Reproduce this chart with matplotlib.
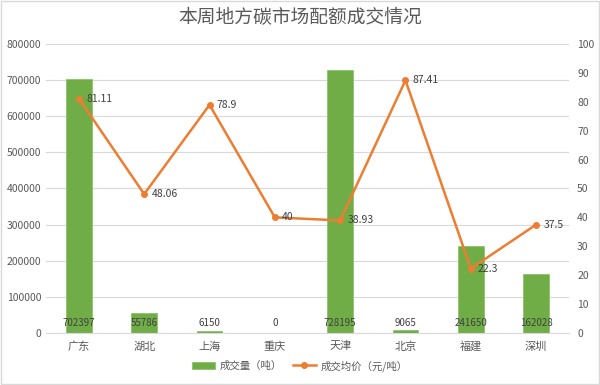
import matplotlib
matplotlib.use("Agg")
import matplotlib.pyplot as plt
from matplotlib.patches import Rectangle

plt.rcParams['font.family'] = ['Noto Sans CJK SC', 'DejaVu Sans']

categories = ['广东', '湖北', '上海', '重庆', '天津', '北京', '福建', '深圳']
volume = [702397, 55786, 6150, 0, 728195, 9065, 241650, 162028]
price = [81.11, 48.06, 78.9, 40, 38.93, 87.41, 22.3, 37.5]
price_labels = ['81.11', '48.06', '78.9', '40', '38.93', '87.41', '22.3', '37.5']

green = '#70AD47'
orange = '#ED7D31'
txt = '#595959'

fig = plt.figure(figsize=(6, 3.85), dpi=100)
ax = fig.add_axes([0.077, 0.135, 0.871, 0.751])
x = list(range(len(categories)))
ax.bar(x, volume, width=0.39, color=green, edgecolor='#8BC46A', linewidth=0.6, zorder=2, label='成交量（吨）')
ax.set_ylim(0, 800000)
ax.set_xlim(-0.5, len(categories) - 0.5)
ax.set_yticks(range(0, 800001, 100000))
ax.yaxis.grid(True, color='#D9D9D9', linewidth=0.8, zorder=0)
ax.set_axisbelow(True)
for s in ax.spines.values():
    s.set_visible(False)
ax.spines['bottom'].set_visible(True)
ax.spines['bottom'].set_color('#D9D9D9')
ax.tick_params(axis='both', length=0, labelsize=7.5, colors=txt)
ax.set_xticks(x)
ax.set_xticklabels(categories, fontsize=8)
ax.tick_params(axis='x', pad=6)
for xi, v in zip(x, volume):
    ax.text(xi, 14000, str(v), ha='center', va='bottom', fontsize=7, color='#404040', zorder=5)

ax2 = ax.twinx()
ax2.plot(x, price, color=orange, marker='o', markersize=4, linewidth=1.8, zorder=3, label='成交均价（元/吨）')
ax2.set_ylim(0, 100)
ax2.set_yticks(range(0, 101, 10))
for s in ax2.spines.values():
    s.set_visible(False)
ax2.tick_params(axis='y', length=0, labelsize=7.5, colors=txt, pad=6)
for xi, p, lab in zip(x, price, price_labels):
    ax2.text(xi + 0.11, p, lab, ha='left', va='center', fontsize=7.5, color='#404040', zorder=5)

fig.text(0.5, 0.953, '本周地方碳市场配额成交情况', ha='center', va='center', fontsize=13.5, color=txt)

h1, l1 = ax.get_legend_handles_labels()
h2, l2 = ax2.get_legend_handles_labels()
fig.legend(h1 + h2, l1 + l2, loc='center', bbox_to_anchor=(0.5, 0.05), ncol=2, frameon=False,
           fontsize=7.5, labelcolor=txt, handlelength=2.2, columnspacing=1.0, handletextpad=0.5)

fig.patches.append(Rectangle((0.002, 0.003), 0.996, 0.994, transform=fig.transFigure,
                             fill=False, edgecolor='#D9D9D9', linewidth=1))

fig.savefig('out.png', dpi=100)
